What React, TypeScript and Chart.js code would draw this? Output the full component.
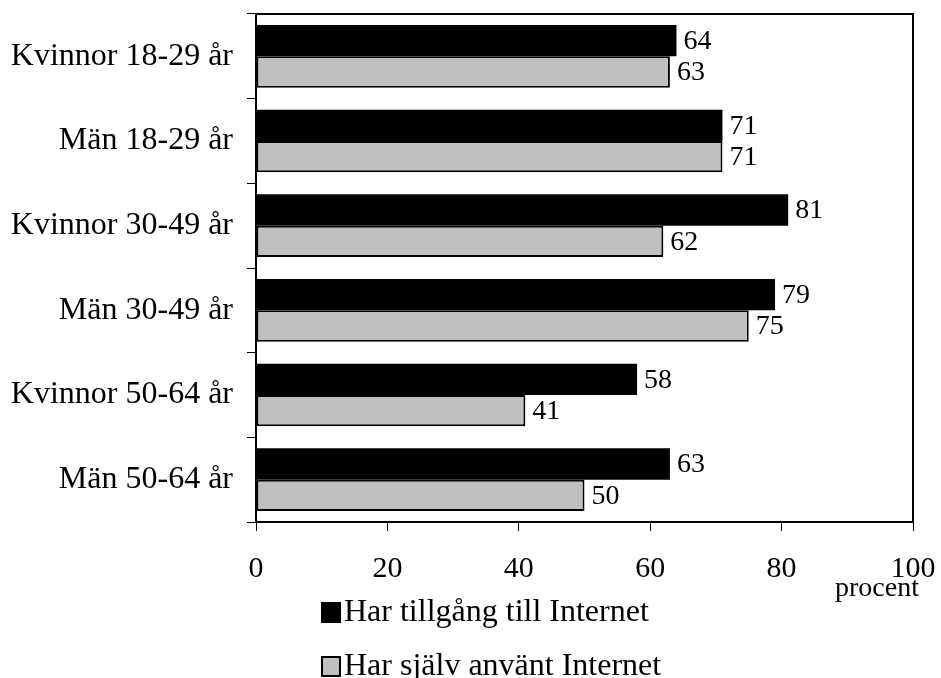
import React, { useEffect, useRef } from "react";
import { Chart, registerables } from "chart.js";

Chart.register(...registerables);

const categories = [
  "Kvinnor 18-29 år",
  "Män 18-29 år",
  "Kvinnor 30-49 år",
  "Män 30-49 år",
  "Kvinnor 50-64 år",
  "Män 50-64 år",
];
const accessValues = [64, 71, 81, 79, 58, 63];
const usedValues = [63, 71, 62, 75, 41, 50];
const seriesNames = ["Har tillgång till Internet", "Har själv använt Internet"];
const xTicks = [0, 20, 40, 60, 80, 100];
const unitLabel = "procent";

const FONT = "'Liberation Serif', 'Times New Roman', serif";

const framePlugin = {
  id: "frame",
  afterDatasetsDraw(chart: any) {
    const { ctx, chartArea } = chart;
    ctx.save();
    ctx.strokeStyle = "#000";
    ctx.lineWidth = 2;
    ctx.beginPath();
    ctx.moveTo(chartArea.left, chartArea.top);
    ctx.lineTo(chartArea.right, chartArea.top);
    ctx.lineTo(chartArea.right, chartArea.bottom);
    ctx.stroke();
    ctx.restore();
  },
};

const labelPlugin = {
  id: "valueLabels",
  afterDatasetsDraw(chart: any) {
    const { ctx } = chart;
    ctx.save();
    ctx.font = `28px ${FONT}`;
    ctx.fillStyle = "#000";
    ctx.textAlign = "left";
    ctx.textBaseline = "middle";
    chart.data.datasets.forEach((ds: any, di: number) => {
      const meta = chart.getDatasetMeta(di);
      meta.data.forEach((bar: any, i: number) => {
        ctx.fillText(String(ds.data[i]), bar.x + 7, bar.y + 1);
      });
    });
    ctx.restore();
  },
};

const legendPlugin = {
  id: "customLegend",
  afterDraw(chart: any) {
    const { ctx, chartArea } = chart;
    ctx.save();
    // unit label
    ctx.font = `28px ${FONT}`;
    ctx.fillStyle = "#000";
    ctx.textAlign = "center";
    ctx.textBaseline = "middle";
    ctx.fillText(unitLabel, chartArea.right - 36, chartArea.bottom + 67);
    // legend
    const startX = 321;
    const rows = [chartArea.bottom + 90, chartArea.bottom + 144];
    chart.data.datasets.forEach((ds: any, i: number) => {
      const cy = rows[i];
      ctx.fillStyle = ds.backgroundColor;
      ctx.fillRect(startX, cy - 10, 20, 21);
      ctx.strokeStyle = "#000";
      ctx.lineWidth = 2;
      ctx.strokeRect(startX + 1, cy - 9, 18, 19);
      ctx.fillStyle = "#000";
      ctx.font = `32px ${FONT}`;
      ctx.textAlign = "left";
      ctx.textBaseline = "middle";
      ctx.fillText(ds.label, startX + 23, cy + 1);
    });
    ctx.restore();
  },
};

export default function App() {
  const ref = useRef<HTMLCanvasElement | null>(null);
  useEffect(() => {
    if (!ref.current) return;
    const chart = new Chart(ref.current, {
      type: "bar",
      data: {
        labels: categories,
        datasets: [
          {
            label: seriesNames[0],
            data: accessValues,
            backgroundColor: "#000000",
            borderColor: "#000000",
            borderWidth: 0,
          },
          {
            label: seriesNames[1],
            data: usedValues,
            backgroundColor: "#c0c0c0",
            borderColor: "#000000",
            borderWidth: 2,
            borderSkipped: false,
          },
        ],
      },
      options: {
        indexAxis: "y",
        animation: false,
        responsive: false,
        maintainAspectRatio: false,
        datasets: { bar: { categoryPercentage: 0.74, barPercentage: 1 } },
        layout: { padding: { top: 14, right: 28, left: 0, bottom: 0 } },
        plugins: {
          legend: { display: false },
          tooltip: { enabled: false },
          title: { display: false },
        },
        scales: {
          x: {
            type: "linear",
            min: 0,
            max: 100,
            afterBuildTicks(scale: any) {
              scale.ticks = xTicks.map((v) => ({ value: v }));
            },
            afterFit(scale: any) {
              scale.height = 156;
              scale.paddingLeft = 0;
              scale.paddingRight = 0;
            },
            grid: {
              drawOnChartArea: false,
              drawTicks: true,
              tickLength: 9,
              color: "#000",
              lineWidth: 1,
            },
            border: { display: true, color: "#000", width: 2 },
            ticks: {
              padding: 20,
              color: "#000",
              font: { family: FONT, size: 30 },
              maxRotation: 0,
            },
          },
          y: {
            type: "category",
            afterFit(scale: any) {
              scale.width = 256;
              scale.paddingTop = 0;
              scale.paddingBottom = 0;
            },
            grid: {
              offset: true,
              drawOnChartArea: false,
              drawTicks: true,
              tickLength: 9,
              color: "#000",
              lineWidth: 1,
            },
            border: { display: true, color: "#000", width: 2 },
            ticks: {
              padding: 14,
              color: "#000",
              font: { family: FONT, size: 32 },
            },
          },
        },
      },
      plugins: [framePlugin, labelPlugin, legendPlugin],
    } as any);
    return () => chart.destroy();
  }, []);
  return (
    <div style={{ position: "fixed", left: 0, top: 0, width: 941, height: 678, background: "#fff" }}>
      <canvas ref={ref} width={941} height={678} style={{ width: 941, height: 678 }} />
    </div>
  );
}
